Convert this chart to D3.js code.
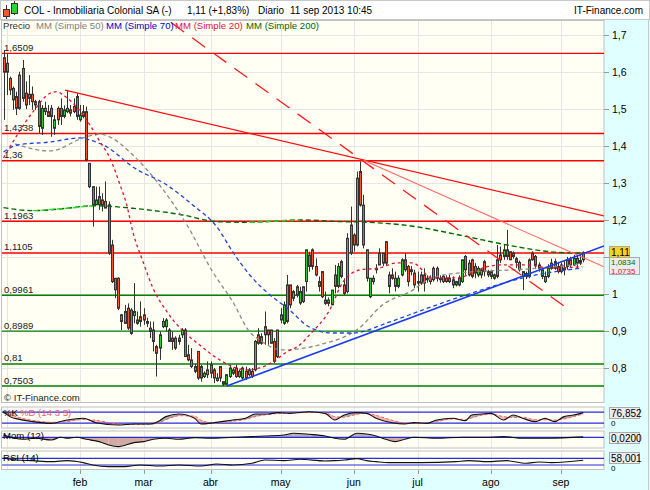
<!DOCTYPE html>
<html><head><meta charset="utf-8">
<script src="https://cdn.jsdelivr.net/npm/d3@7/dist/d3.min.js"></script>
<style>body{margin:0;background:#fff}svg{display:block;font-family:"Liberation Sans",Arial,sans-serif}</style>
</head><body><svg id="c" width="650" height="490"></svg>
<script>
// ---------------- DATA ----------------
const openP = [1.639,1.624,1.583,1.556,1.534,1.502,1.610,1.543,1.540,1.540,1.520,1.520,1.448,1.502,1.493,1.502,1.448,1.502,1.502,1.480,1.502,1.498,1.507,1.534,1.471,1.493,1.493,1.353,1.290,1.241,1.263,1.254,1.232,1.241,1.132,1.042,1.042,0.943,0.920,0.961,0.956,0.941,0.920,0.938,0.943,0.925,0.907,0.902,0.857,0.853,0.911,0.911,0.902,0.880,0.880,0.880,0.889,0.902,0.835,0.821,0.790,0.844,0.803,0.776,0.781,0.808,0.794,0.772,0.803,0.755,0.755,0.776,0.785,0.799,0.776,0.772,0.790,0.781,0.790,0.794,0.889,0.866,0.889,0.902,0.902,0.871,0.830,0.943,0.920,0.925,1.024,0.988,1.019,0.975,0.979,1.033,1.105,1.119,1.074,1.033,1.060,0.983,0.974,0.970,1.051,1.020,1.087,1.024,1.006,1.186,1.159,1.132,1.331,1.240,1.119,0.992,1.042,1.069,1.078,1.083,1.141,1.051,1.051,1.020,1.020,1.051,1.092,1.074,1.065,1.056,1.033,1.029,1.051,1.042,1.042,1.038,1.069,1.042,1.033,1.042,1.042,1.038,1.024,1.042,1.033,1.101,1.051,1.092,1.074,1.051,1.051,1.087,1.060,1.060,1.042,1.047,1.105,1.101,1.119,1.114,1.110,1.095,1.085,1.060,1.047,1.047,1.110,1.101,1.078,1.047,1.033,1.047,1.083,1.069,1.074,1.060,1.069,1.074,1.092,1.078,1.096,1.083,1.092];
const highP = [1.660,1.650,1.588,1.561,1.547,1.601,1.633,1.575,1.592,1.561,1.525,1.525,1.511,1.520,1.511,1.511,1.484,1.507,1.529,1.510,1.552,1.511,1.529,1.543,1.511,1.511,1.507,1.353,1.290,1.290,1.290,1.272,1.304,1.250,1.146,1.042,1.045,0.945,0.970,0.974,0.961,1.029,0.952,0.979,0.961,0.935,0.925,0.925,0.862,0.898,0.934,0.934,0.907,0.898,0.885,0.889,0.907,0.907,0.862,0.853,0.810,0.844,0.808,0.790,0.817,0.817,0.799,0.785,0.803,0.762,0.781,0.808,0.800,0.808,0.795,0.803,0.803,0.799,0.799,0.875,0.907,0.893,0.952,0.902,0.902,0.880,0.902,0.961,0.979,1.051,1.024,1.010,1.024,1.019,1.019,1.119,1.114,1.123,1.096,1.047,1.060,1.006,0.990,1.010,1.078,1.083,1.092,1.042,1.164,1.236,1.164,1.331,1.358,1.268,1.119,1.042,1.050,1.080,1.123,1.110,1.141,1.060,1.069,1.060,1.050,1.096,1.110,1.078,1.075,1.065,1.060,1.060,1.069,1.050,1.050,1.074,1.074,1.050,1.051,1.050,1.051,1.047,1.035,1.050,1.092,1.105,1.092,1.095,1.083,1.075,1.069,1.092,1.065,1.065,1.055,1.132,1.128,1.132,1.173,1.114,1.115,1.100,1.090,1.060,1.060,1.096,1.115,1.105,1.085,1.070,1.060,1.080,1.095,1.095,1.085,1.085,1.090,1.100,1.100,1.105,1.105,1.105,1.115];
const lowP = [1.471,1.538,1.538,1.498,1.484,1.498,1.520,1.500,1.511,1.498,1.498,1.434,1.430,1.484,1.480,1.425,1.430,1.457,1.457,1.475,1.489,1.480,1.489,1.471,1.466,1.475,1.358,1.286,1.182,1.241,1.227,1.223,1.232,1.105,1.029,0.988,0.956,0.902,0.918,0.902,0.889,0.920,0.916,0.911,0.916,0.910,0.880,0.844,0.776,0.821,0.907,0.898,0.871,0.848,0.848,0.862,0.880,0.830,0.817,0.799,0.785,0.767,0.762,0.772,0.772,0.772,0.758,0.762,0.762,0.7503,0.753,0.772,0.780,0.772,0.772,0.768,0.767,0.776,0.772,0.790,0.862,0.862,0.862,0.862,0.866,0.812,0.826,0.920,0.916,0.920,0.961,0.980,0.990,0.970,0.975,1.006,1.060,1.065,1.047,1.006,0.988,0.970,0.966,0.970,1.001,1.015,1.042,0.997,1.001,1.105,1.114,1.128,1.236,1.123,1.033,0.988,1.025,1.055,1.078,1.075,1.078,1.001,1.038,1.006,1.015,1.047,1.060,1.020,1.050,1.015,1.006,1.024,1.006,1.030,1.025,1.033,1.033,1.030,1.029,1.030,1.029,1.015,1.020,1.020,1.029,1.051,1.047,1.042,1.042,1.045,1.042,1.047,1.045,1.040,1.038,1.042,1.083,1.092,1.092,1.092,1.095,1.070,1.060,1.010,1.040,1.042,1.090,1.070,1.060,1.040,1.029,1.042,1.065,1.065,1.055,1.055,1.050,1.065,1.070,1.075,1.070,1.078,1.085];
const closeP = [1.600,1.600,1.552,1.525,1.502,1.592,1.529,1.511,1.529,1.520,1.511,1.453,1.502,1.493,1.480,1.480,1.471,1.471,1.480,1.498,1.493,1.489,1.493,1.480,1.484,1.480,1.362,1.290,1.241,1.254,1.241,1.241,1.250,1.110,1.033,1.011,0.961,0.925,0.952,0.907,0.893,0.952,0.929,0.925,0.929,0.920,0.898,0.871,0.839,0.889,0.925,0.929,0.871,0.871,0.853,0.871,0.902,0.830,0.821,0.803,0.803,0.772,0.772,0.785,0.794,0.785,0.772,0.765,0.772,0.762,0.781,0.799,0.794,0.776,0.790,0.799,0.772,0.794,0.776,0.871,0.866,0.884,0.911,0.889,0.866,0.817,0.902,0.929,0.970,1.024,0.970,1.006,0.998,1.006,1.019,1.119,1.074,1.074,1.051,1.020,0.992,0.974,0.983,1.010,1.020,1.074,1.047,1.001,1.150,1.110,1.132,1.313,1.240,1.132,1.042,1.042,1.033,1.065,1.110,1.110,1.083,1.020,1.042,1.042,1.042,1.092,1.065,1.033,1.060,1.024,1.029,1.051,1.029,1.038,1.033,1.069,1.042,1.038,1.047,1.033,1.033,1.024,1.033,1.024,1.092,1.065,1.083,1.047,1.056,1.069,1.065,1.060,1.051,1.047,1.051,1.092,1.092,1.119,1.101,1.092,1.101,1.085,1.065,1.047,1.055,1.092,1.092,1.078,1.069,1.065,1.047,1.069,1.069,1.087,1.060,1.078,1.065,1.092,1.078,1.096,1.083,1.090,1.110];

// moving averages: [candle index, value]
const sma50 = [[3.6,1.4055],[14.6,1.3866],[25,1.4218],[30.3,1.4326],[33.4,1.4244],[40.6,1.3757],[49,1.2945],[57.6,1.1862],[65.7,1.059],[72,0.978],[77.3,0.8966],[80.4,0.875],[87.6,0.848],[99.2,0.862],[111.8,0.908],[119,0.970],[127.5,1.005],[134.7,1.043],[146.3,1.059],[157.9,1.064],[169.2,1.070],[181.7,1.081]];
const sma70 = [[0,1.3839],[4.3,1.4028],[14.6,1.4109],[24,1.4218],[27,1.4163],[32.5,1.3974],[40.6,1.3432],[51.3,1.2945],[59.4,1.2404],[67,1.1808],[72,1.1131],[77.3,1.0509],[82.6,1.0048],[89.8,0.9561],[96,0.9100],[103.3,0.8938],[109.6,0.8938],[121,0.923],[131.5,0.956],[147,1.002],[164,1.045],[181.7,1.070]];
const sma20 = [[0,1.3676],[9.3,1.4930],[14.6,1.5428],[16.8,1.5471],[18.7,1.5382],[25,1.4840],[30.3,1.4117],[33.4,1.3676],[36.6,1.2945],[38.7,1.2404],[40.6,1.1681],[43.8,1.0869],[46.9,1.0157],[51.3,0.9515],[55.4,0.9074],[61.6,0.8614],[66.9,0.8262],[72,0.8027],[76.4,0.7937],[80.4,0.7991],[84.5,0.8154],[88.9,0.8424],[93,0.8614],[96,0.888],[102.4,0.9561],[106.4,1.0292],[111.8,1.0644],[118,1.0698],[123.4,1.0834],[128.4,1.0834],[134.7,1.0428],[142.2,1.0428],[151.6,1.0726],[155.7,1.078],[164.1,1.078],[172.3,1.0698],[181.7,1.0735]];
const sma200 = [[0,1.2331],[9.3,1.225],[19.9,1.2315],[28,1.2385],[40.6,1.2315],[56.3,1.2133],[67,1.1952],[77.3,1.1936],[93,1.1998],[106.4,1.1952],[114,1.1936],[129.6,1.1816],[140,1.1646],[150.4,1.1458],[161,1.1275],[171.4,1.114],[181.7,1.1096]];

// horizontal levels
const resistLevels = [1.6509,1.4338,1.36,1.1963,1.1105];
const supportLevels = [0.9961,0.8989,0.81,0.7503];
// trend lines [index, value] endpoints
const trendRed = [[19.3,1.551],[188.5,1.2106]];
const trendSalmon = [[112.9,1.3621],[188.5,1.0731]];
const trendDashed = [[46,1.7753],[177.6,0.9567]];
const trendBlue = [[70.1,0.7503],[188.5,1.1294]];

// indicators [index, value]
const stochK = [[0,82],[2,55],[5,40],[9,28],[15,18],[20,37],[25,46],[29,22],[36,9],[41,15],[46,15],[49,33],[51,55],[55,69],[60,46],[62,15],[66,22],[72,37],[76,46],[79,69],[83,69],[86,77],[90,73],[96,82],[101,73],[104,37],[107,64],[111,77],[114,73],[117,46],[122,22],[126,15],[129,22],[133,18],[136,37],[141,46],[145,33],[147,64],[150,69],[153,73],[157,37],[160,64],[163,46],[167,28],[170,46],[173,28],[176,55],[179,64],[182,76.852]];
const stochD = [[0,75],[2,68],[5,50],[9,35],[15,24],[20,28],[25,40],[29,35],[36,15],[41,12],[46,14],[49,22],[51,38],[55,60],[60,58],[62,35],[66,20],[72,30],[76,40],[79,55],[83,67],[86,72],[90,74],[96,78],[101,77],[104,55],[107,52],[111,68],[114,74],[117,62],[122,35],[126,20],[129,18],[133,20],[136,28],[141,42],[145,40],[147,48],[150,62],[153,70],[157,55],[160,50],[163,52],[167,38],[170,38],[173,36],[176,42],[179,55],[182,70]];
const momentum = [[0,0.117],[6,-0.1],[10,-0.05],[15,-0.133],[18,0],[20,-0.05],[23,0],[26,-0.1],[30,-0.217],[33,-0.383],[36,-0.467],[41,-0.267],[44,-0.217],[47,-0.1],[51,-0.05],[55,-0.1],[60,-0.017],[65,-0.05],[72,0],[78,0.033],[82,0.067],[88,0.117],[91,0.2],[96,0.15],[101,0.067],[104,-0.05],[107,-0.1],[111,0.2],[114,0.167],[117,0.067],[120,-0.1],[123,-0.217],[126,-0.1],[129,0],[136,-0.05],[144,0],[151,0],[157,0.033],[163,-0.05],[171,-0.05],[182,0.02]];
const rsi = [[0,70],[4,60],[9,56],[15,50],[20,56],[25,44],[28,30],[33,20],[38,20],[43,30],[49,24],[55,30],[62,24],[67,36],[72,30],[78,40],[82,60],[88,56],[93,64],[101,54],[104,56],[107,60],[111,68],[114,56],[117,50],[121,44],[131,44],[142,50],[146,56],[152,50],[158,56],[164,40],[168,48],[172,44],[182,58.001]];

const yTicks = [0.8,0.9,1.0,1.1,1.2,1.3,1.4,1.5,1.6,1.7];
const monthNames = ["feb","mar","abr","may","jun","jul","ago","sep"];
const sma200Last = 1.0834;

// ---------------- SETUP ----------------
const svg = d3.select("#c");
const dates = d3.utcDays(new Date(Date.UTC(2012,11,31)), new Date(Date.UTC(2013,8,12))).filter(d => d.getUTCDay() % 6 !== 0);
const N = dates.length; // 183
const x = d3.scaleLinear().domain([0, N - 1]).range([3.5, 583.2]);
const y = d3.scaleLinear().domain([0.7, 1.7]).range([404.6, 35.2]);
const yK = d3.scaleLinear().domain([0, 100]).range([426.7, 408.4]);
const yM = d3.scaleLinear().domain([-0.5, 0.3]).range([447.3, 431.3]);
const yR = d3.scaleLinear().domain([0, 100]).range([470, 453.3]);
const fmt = v => String(+v.toFixed(4)).replace(".", ",");

const PX0 = 2, PX1 = 604, MT = 20, MB = 403;
const panels = [[MT, MB], [406.5, 428.5], [430.5, 448.5], [450.5, 470]];

const monthStarts = [];
dates.forEach((d, i) => { if (i > 0 && d.getUTCMonth() !== dates[i - 1].getUTCMonth()) monthStarts.push(i); });
const gridIdx = monthStarts;
const labelIdx = monthStarts.slice(1);

// backgrounds
svg.append("rect").attr("width", 650).attr("height", 490).attr("fill", "#ffffff");
svg.append("rect").attr("x", PX1).attr("y", MT).attr("width", 46).attr("height", 470).attr("fill", "#e0ffff");
svg.append("rect").attr("x", 0).attr("y", 470).attr("width", 650).attr("height", 20).attr("fill", "#e0ffff");
panels.forEach(([t, b]) => {
  svg.append("rect").attr("x", PX0).attr("y", t).attr("width", PX1 - PX0).attr("height", b - t)
    .attr("fill", "#fffff4");
});

// header
svg.append("rect").attr("x", 0.5).attr("y", 0.5).attr("width", 649).attr("height", 19).attr("fill", "#fff").attr("stroke", "#c8c8c8");
svg.append("line").attr("x1", 6.5).attr("x2", 6.5).attr("y1", 5).attr("y2", 19).attr("stroke", "#333");
svg.append("rect").attr("x", 3.5).attr("y", 9.5).attr("width", 6).attr("height", 7).attr("fill", "#f05a32").attr("stroke", "#333");
svg.append("line").attr("x1", 14.5).attr("x2", 14.5).attr("y1", 1).attr("y2", 15).attr("stroke", "#333");
svg.append("rect").attr("x", 11.5).attr("y", 3.5).attr("width", 6).attr("height", 10).attr("fill", "#2ed42e").attr("stroke", "#333");
const head = svg.append("g").attr("font-size", 10).attr("fill", "#000");
head.append("text").attr("x", 24).attr("y", 14).text("COL - Inmobiliaria Colonial SA (-)");
head.append("text").attr("x", 187).attr("y", 14).text("1,11 (+1,83%)");
head.append("text").attr("x", 258).attr("y", 14).text("Diario");
head.append("text").attr("x", 290).attr("y", 14).text("11 sep 2013 10:45");
head.append("text").attr("x", 643).attr("y", 14).attr("text-anchor", "end").text("IT-Finance.com");

// grid
const grid = svg.append("g").attr("stroke", "#e6e6e6").attr("stroke-width", 1);
panels.forEach(([t, b]) => {
  gridIdx.forEach(i => grid.append("line").attr("x1", Math.round(x(i)) + 0.5).attr("x2", Math.round(x(i)) + 0.5).attr("y1", t).attr("y2", b));
});
yTicks.forEach(v => grid.append("line").attr("x1", PX0).attr("x2", PX1).attr("y1", Math.round(y(v)) + 0.5).attr("y2", Math.round(y(v)) + 0.5));

// frames
const frames = svg.append("g").attr("fill", "none").attr("stroke", "#c0c0c0");
panels.forEach(([t, b]) => frames.append("rect").attr("x", 1.5).attr("y", t + 0.5).attr("width", PX1 - 1.5).attr("height", b - t - 1));
svg.append("line").attr("x1", 648.5).attr("x2", 648.5).attr("y1", 20).attr("y2", 490).attr("stroke", "#c8c8c8");

// clip
svg.append("clipPath").attr("id", "mainclip").append("rect").attr("x", PX0).attr("y", MT).attr("width", PX1 - PX0).attr("height", MB - MT);
const main = svg.append("g").attr("clip-path", "url(#mainclip)");

// levels
resistLevels.forEach(v => main.append("line").attr("x1", PX0).attr("x2", PX1).attr("y1", y(v)).attr("y2", y(v)).attr("stroke", "#ff0000").attr("stroke-width", 1.4));
supportLevels.forEach(v => main.append("line").attr("x1", PX0).attr("x2", PX1).attr("y1", y(v)).attr("y2", y(v)).attr("stroke", "#008000").attr("stroke-width", 1.4));

// candles
const idx = d3.range(N);
main.append("g").selectAll("line").data(idx).join("line")
  .attr("x1", i => Math.round(x(i)) + 0.5).attr("x2", i => Math.round(x(i)) + 0.5)
  .attr("y1", i => y(highP[i])).attr("y2", i => y(lowP[i]))
  .attr("stroke", "#333").attr("stroke-width", 1);
main.append("g").selectAll("rect").data(idx).join("rect")
  .attr("x", i => Math.round(x(i)) - 0.5).attr("width", 2)
  .attr("y", i => y(Math.max(openP[i], closeP[i])))
  .attr("height", i => Math.max(1, Math.abs(y(openP[i]) - y(closeP[i]))))
  .attr("fill", i => closeP[i] >= openP[i] ? "#28d028" : "#f4582a")
  .attr("stroke", "#333").attr("stroke-width", 1);

// moving averages
const maLine = d3.line().x(d => x(d[0])).y(d => y(d[1])).curve(d3.curveMonotoneX);
main.append("path").attr("d", maLine(sma200)).attr("fill", "none").attr("stroke", "#006a00").attr("stroke-width", 1.4).attr("stroke-dasharray", "5,3");
let run = [];
const runs = [];
sma200.forEach((p, k) => {
  if (k > 0 && p[1] > sma200[k - 1][1]) { if (!run.length) run.push(sma200[k - 1]); run.push(p); }
  else if (run.length) { runs.push(run); run = []; }
});
if (run.length) runs.push(run);
runs.forEach(r => main.append("path").attr("d", maLine(r)).attr("fill", "none").attr("stroke", "#22dd22").attr("stroke-width", 1.4).attr("stroke-dasharray", "5,3"));
main.append("path").attr("d", maLine(sma50)).attr("fill", "none").attr("stroke", "#8a8a8a").attr("stroke-width", 1.3).attr("stroke-dasharray", "4,3");
main.append("path").attr("d", maLine(sma70)).attr("fill", "none").attr("stroke", "#2244dd").attr("stroke-width", 1.3).attr("stroke-dasharray", "4,3");
main.append("path").attr("d", maLine(sma20)).attr("fill", "none").attr("stroke", "#dc143c").attr("stroke-width", 1.3).attr("stroke-dasharray", "3,3");

// trend lines
const tl = d3.line().x(d => x(d[0])).y(d => y(d[1]));
main.append("path").attr("d", tl(trendRed)).attr("stroke", "#ff1010").attr("stroke-width", 1.3).attr("fill", "none");
main.append("path").attr("d", tl(trendSalmon)).attr("stroke", "#ff6a6a").attr("stroke-width", 1.1).attr("fill", "none");
main.append("path").attr("d", tl(trendDashed)).attr("stroke", "#ff1a1a").attr("stroke-width", 1.3).attr("fill", "none").attr("stroke-dasharray", "16,10");
main.append("path").attr("d", tl(trendBlue)).attr("stroke", "#1a3cf0").attr("stroke-width", 1.5).attr("fill", "none");

// legend
const leg = svg.append("g").attr("font-size", 9.6);
[["Precio", 3, "#333"], ["MM (Simple 50)", 36, "#808080"], ["MM (Simple 70)", 106, "#0000cc"], ["MM (Simple 20)", 175, "#dc143c"], ["MM (Simple 200)", 246, "#006400"]]
  .forEach(([t, xx, c]) => leg.append("text").attr("x", xx).attr("y", 29).attr("fill", c).text(t));

// level labels
const ll = svg.append("g").attr("font-size", 9.6).attr("fill", "#222");
resistLevels.concat(supportLevels).forEach(v => ll.append("text").attr("x", 4).attr("y", y(v) - 2.5).text(fmt(v)));
ll.append("text").attr("x", 4).attr("y", 401).text("© IT-Finance.com");

// y axis (1,1 hidden behind the last-price label, as in the original)
const ya = svg.append("g").attr("font-size", 10.5).attr("fill", "#000");
yTicks.forEach(v => {
  ya.append("line").attr("x1", PX1).attr("x2", PX1 + 5).attr("y1", Math.round(y(v)) + 0.5).attr("y2", Math.round(y(v)) + 0.5).attr("stroke", "#999");
  if (Math.abs(v - 1.1) > 1e-6) ya.append("text").attr("x", 612).attr("y", y(v) + 4).text(fmt(v));
});

// end-of-series labels
svg.append("rect").attr("x", 609.5).attr("y", 257.5).attr("width", 30).attr("height", 17).attr("fill", "#ececec").attr("stroke", "#aaa");
svg.append("text").attr("x", 611).attr("y", 265).attr("font-size", 8).attr("fill", "#007000").text(fmt(sma200Last));
svg.append("text").attr("x", 611).attr("y", 273.5).attr("font-size", 8).attr("fill", "#dc143c").text(fmt(sma20[sma20.length - 1][1]));
svg.append("rect").attr("x", 609.5).attr("y", 246.5).attr("width", 20).attr("height", 11).attr("fill", "#ffd21e").attr("stroke", "#aaa");
svg.append("text").attr("x", 611).attr("y", 255.5).attr("font-size", 10).attr("fill", "#000").text(fmt(closeP[N - 1]));

// ---------------- SUB PANELS ----------------
function splitFill(g, a, b, ys, colUp, colDown) {
  for (let k = 1; k < a.length; k++) {
    const x0 = a[k - 1][0], x1 = a[k][0];
    const a0 = a[k - 1][1], a1 = a[k][1], b0 = b[k - 1][1], b1 = b[k][1];
    const d0 = a0 - b0, d1 = a1 - b1;
    const poly = (pts, c) => g.append("path").attr("d", "M" + pts.map(p => x(p[0]) + "," + ys(p[1])).join("L") + "Z").attr("fill", c).attr("stroke", "none");
    if (d0 * d1 >= 0) {
      poly([[x0, a0], [x1, a1], [x1, b1], [x0, b0]], (d0 + d1) >= 0 ? colUp : colDown);
    } else {
      const t = d0 / (d0 - d1), xc = x0 + t * (x1 - x0), vc = a0 + t * (a1 - a0);
      poly([[x0, a0], [xc, vc], [x0, b0]], d0 > 0 ? colUp : colDown);
      poly([[xc, vc], [x1, a1], [x1, b1]], d1 > 0 ? colUp : colDown);
    }
  }
}
const blue = "#2a2ae0";
// stochastic
const gK = svg.append("g");
splitFill(gK, stochK, stochD, yK, "#a9a9a9", "#f4b4b4");
[80, 20].forEach(v => gK.append("line").attr("x1", PX0).attr("x2", PX1).attr("y1", yK(v)).attr("y2", yK(v)).attr("stroke", blue).attr("stroke-width", 1.2));
gK.append("path").attr("d", d3.line().x(d => x(d[0])).y(d => yK(d[1])).curve(d3.curveMonotoneX)(stochD)).attr("fill", "none").attr("stroke", "#ff6060").attr("stroke-width", 1).attr("stroke-dasharray", "3,2");
gK.append("path").attr("d", d3.line().x(d => x(d[0])).y(d => yK(d[1])).curve(d3.curveMonotoneX)(stochK)).attr("fill", "none").attr("stroke", "#111").attr("stroke-width", 1.1);
gK.append("text").attr("x", 3).attr("y", 416).attr("font-size", 9.6).attr("fill", "#000").text("%K");
gK.append("text").attr("x", 20).attr("y", 416).attr("font-size", 9.6).attr("fill", "#f06060").text("%D (14 3 5)");

// momentum
const gM = svg.append("g");
const zeroM = momentum.map(d => [d[0], 0]);
splitFill(gM, momentum, zeroM, yM, "#b0b0b0", "#d2aaa4");
gM.append("line").attr("x1", PX0).attr("x2", PX1).attr("y1", yM(0)).attr("y2", yM(0)).attr("stroke", blue).attr("stroke-width", 1.2);
gM.append("path").attr("d", d3.line().x(d => x(d[0])).y(d => yM(d[1])).curve(d3.curveMonotoneX)(momentum)).attr("fill", "none").attr("stroke", "#111").attr("stroke-width", 1.1);
gM.append("text").attr("x", 3).attr("y", 439).attr("font-size", 9.6).attr("fill", "#000").text("Mom (12)");

// RSI
const gR = svg.append("g");
[70, 30].forEach(v => gR.append("line").attr("x1", PX0).attr("x2", PX1).attr("y1", yR(v)).attr("y2", yR(v)).attr("stroke", blue).attr("stroke-width", 1.2));
gR.append("path").attr("d", d3.line().x(d => x(d[0])).y(d => yR(d[1])).curve(d3.curveMonotoneX)(rsi)).attr("fill", "none").attr("stroke", "#111").attr("stroke-width", 1.1);
gR.append("text").attr("x", 3).attr("y", 461).attr("font-size", 9.6).attr("fill", "#000").text("RSI (14)");

// right value boxes
const loc = d3.formatLocale({decimal: ",", thousands: ".", grouping: [3], currency: ["", ""]});
[[stochK[stochK.length - 1][1], 407, loc.format(".3f")], [momentum[momentum.length - 1][1], 432, loc.format(".4f")], [rsi[rsi.length - 1][1], 452, loc.format(".3f")]]
  .forEach(([v, top, f]) => {
    svg.append("rect").attr("x", 609.5).attr("y", top + 0.5).attr("width", 30).attr("height", 11).attr("fill", "#ececec").attr("stroke", "#aaa");
    svg.append("text").attr("x", 611).attr("y", top + 9.5).attr("font-size", 10).attr("fill", "#000").text(f(v));
  });
svg.append("text").attr("x", 611).attr("y", 426).attr("font-size", 8).text("0");
svg.append("text").attr("x", 611).attr("y", 471).attr("font-size", 8).text("0");

// x axis
const xa = svg.append("g").attr("font-size", 10.5).attr("fill", "#000");
labelIdx.forEach((i, k) => {
  xa.append("line").attr("x1", Math.round(x(i)) + 0.5).attr("x2", Math.round(x(i)) + 0.5).attr("y1", 470).attr("y2", 474).attr("stroke", "#999");
  xa.append("text").attr("x", x(i)).attr("y", 486).attr("text-anchor", "middle").text(monthNames[k]);
});
</script></body></html>
